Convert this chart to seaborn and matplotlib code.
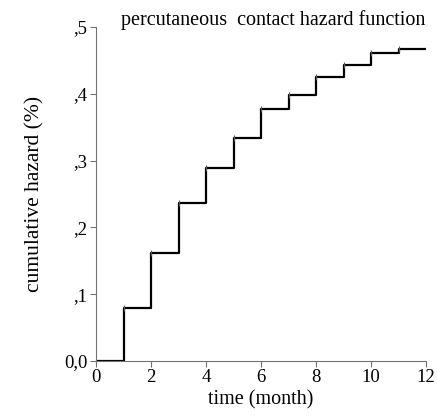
import matplotlib
matplotlib.use('Agg')
import matplotlib.pyplot as plt
import seaborn as sns
import pandas as pd

# cumulative hazard
months = [0, 1, 2, 3, 4, 5, 6, 7, 8, 9, 10, 11, 12]
hazard = [0.0, 0.080, 0.161, 0.237, 0.289, 0.334, 0.377, 0.398, 0.425, 0.443, 0.461, 0.467, 0.467]
event_months = [1, 2, 3, 4, 5, 6, 7, 8, 9, 10, 11]
event_hazard = hazard[1:12]

x_ticks = [0, 2, 4, 6, 8, 10, 12]
y_ticks = [0.0, 0.1, 0.2, 0.3, 0.4, 0.5]
y_labels = ['0,0', ',1', ',2', ',3', ',4', ',5']


def main():
    sns.set_style('white')
    plt.rcParams['font.family'] = ['Liberation Serif', 'DejaVu Serif']
    plt.rcParams['text.color'] = 'black'
    plt.rcParams['axes.labelcolor'] = 'black'
    plt.rcParams['xtick.color'] = 'black'
    plt.rcParams['ytick.color'] = 'black'

    df = pd.DataFrame({'time': months, 'hazard': hazard})
    marks = pd.DataFrame({'time': event_months, 'hazard': event_hazard})

    fig = plt.figure(figsize=(4.37, 4.16), dpi=100)
    ax = fig.add_axes([0.2197, 0.1322, 0.7553, 0.8028])

    sns.lineplot(x='time', y='hazard', data=df, drawstyle='steps-post',
                 color='black', linewidth=1.6, ax=ax)
    # small censoring ticks at each step
    ax.scatter(marks['time'], marks['hazard'], marker='|', s=18,
               color='0.35', linewidths=0.8, zorder=3)

    ax.set_xlim(0, 12)
    ax.set_ylim(0, 0.5)
    ax.set_xticks(x_ticks)
    ax.set_xticklabels([str(t) for t in x_ticks], fontsize=13.5)
    ax.set_yticks(y_ticks)
    ax.set_yticklabels(y_labels, fontsize=13.5)
    ax.tick_params(axis='both', direction='out', length=4, width=0.8,
                   color='0.45', pad=2, left=True, bottom=True)

    for side in ['top', 'right']:
        ax.spines[side].set_visible(False)
    for side in ['left', 'bottom']:
        ax.spines[side].set_color('0.45')
        ax.spines[side].set_linewidth(0.8)

    ax.set_xlabel('time (month)', fontsize=14.5, labelpad=3)
    ax.set_ylabel('cumulative hazard (%)', fontsize=15.5, labelpad=14)
    ax.text(0.537, 1.02, 'percutaneous  contact hazard function', transform=ax.transAxes,
            ha='center', va='center', fontsize=14.5)

    plt.savefig('out.png', dpi=100)
    plt.close()


if __name__ == '__main__':
    main()
